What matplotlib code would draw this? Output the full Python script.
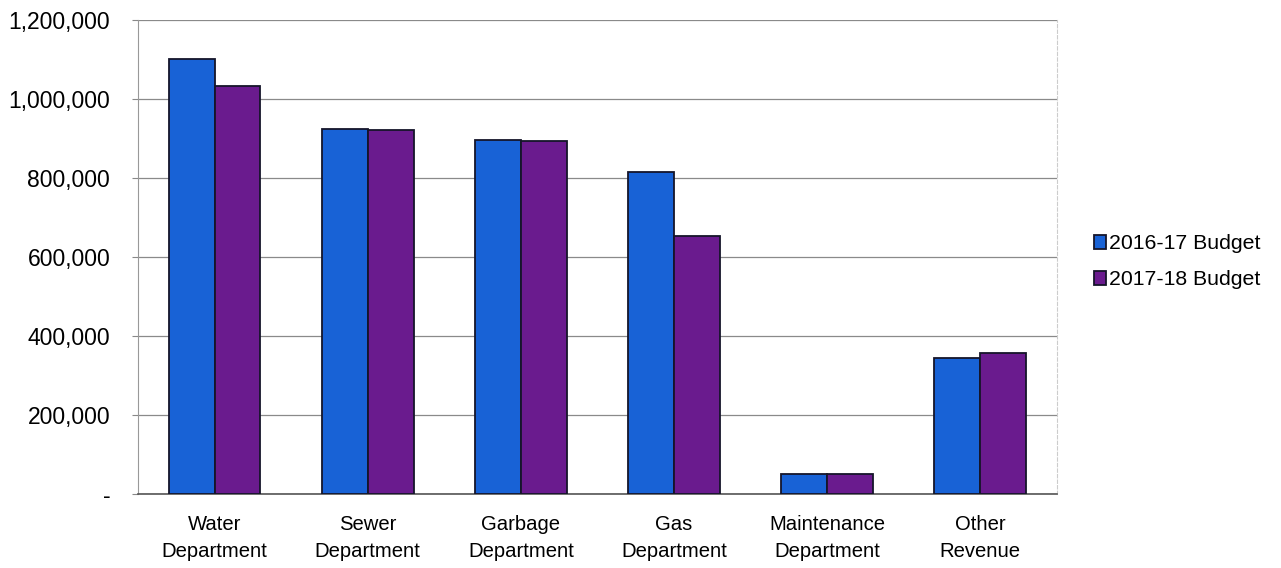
import matplotlib.pyplot as plt
import numpy as np
from matplotlib.ticker import FuncFormatter

plt.rcParams['font.family'] = ['Liberation Sans', 'DejaVu Sans']

categories = ["Water\nDepartment", "Sewer\nDepartment", "Garbage\nDepartment",
              "Gas\nDepartment", "Maintenance\nDepartment", "Other\nRevenue"]
budget_2016_17 = [1100000, 924000, 896000, 815000, 50000, 344000]
budget_2017_18 = [1033000, 921000, 894000, 653000, 50000, 357000]
series_labels = ["2016-17 Budget", "2017-18 Budget"]

fig = plt.figure(figsize=(12.81, 5.68), dpi=100)
ax = fig.add_axes([0.1077, 0.1303, 0.7173, 0.8345])

x = np.arange(len(categories))
w = 0.3
ax.bar(x - w / 2, budget_2016_17, w, color="#1862d6", edgecolor="#15152a",
       linewidth=1.3, label=series_labels[0], zorder=3)
ax.bar(x + w / 2, budget_2017_18, w, color="#6a1b8e", edgecolor="#15152a",
       linewidth=1.3, label=series_labels[1], zorder=3)

ax.set_xlim(-0.5, len(categories) - 0.5)
ax.set_ylim(0, 1200000)
ax.set_yticks(np.arange(0, 1200001, 200000))
ax.yaxis.set_major_formatter(FuncFormatter(lambda v, p: "-" if v == 0 else f"{v:,.0f}"))
ax.set_xticks(x)
ax.set_xticklabels(categories, fontsize=14.6, linespacing=1.55)
ax.tick_params(axis="y", labelsize=16.5, length=4, color="#888888", pad=16)
ax.tick_params(axis="x", length=0, pad=15)

ax.grid(axis="y", color="#8a8a8a", linewidth=0.9, zorder=0)
ax.spines["top"].set_visible(False)
ax.spines["right"].set_color("#cccccc")
ax.spines["right"].set_linestyle((0, (3, 2)))
ax.spines["left"].set_color("#999999")
ax.spines["bottom"].set_color("#555555")
ax.spines["bottom"].set_linewidth(1.2)

ax.legend(loc="center left", bbox_to_anchor=(1.02, 0.49), frameon=False,
          fontsize=15.3, handlelength=0.55, handleheight=0.65, handletextpad=0.15,
          labelspacing=0.8)

fig.savefig("out.png", dpi=100)
